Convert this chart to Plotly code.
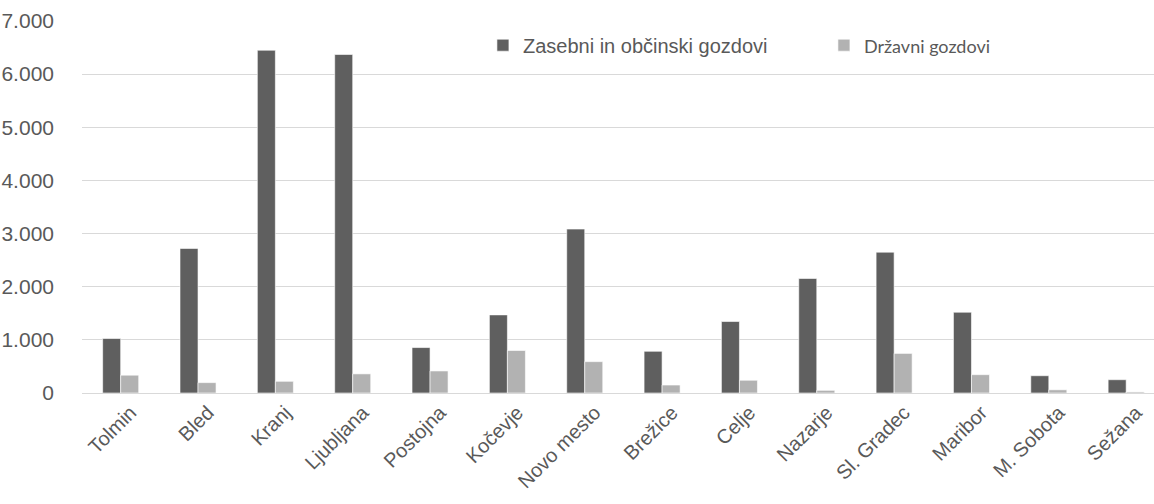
import plotly.graph_objects as go

categories = ["Tolmin", "Bled", "Kranj", "Ljubljana", "Postojna", "Kočevje", "Novo mesto",
              "Brežice", "Celje", "Nazarje", "Sl. Gradec", "Maribor", "M. Sobota", "Sežana"]
zasebni = [1025, 2720, 6450, 6370, 855, 1470, 3085, 785, 1345, 2155, 2650, 1520, 325, 250]
drzavni = [335, 195, 220, 360, 415, 800, 590, 150, 240, 50, 745, 345, 60, 20]
series_names = ["Zasebni in občinski gozdovi", "Državni gozdovi"]
y_ticks = [0, 1000, 2000, 3000, 4000, 5000, 6000, 7000]

TXT = "#595959"
FONT = "Liberation Sans, Arial, sans-serif"

fig = go.Figure()
fig.add_trace(go.Bar(
    x=categories, y=zasebni, name=series_names[0],
    marker=dict(color="#5f5f5f", line=dict(color="#ffffff", width=0.6)),
))
fig.add_trace(go.Bar(
    x=categories, y=drzavni,
    name='<span style="font-family:Lato;font-size:18px">' + series_names[1] + '</span>',
    marker=dict(color="#b2b2b2", line=dict(color="#ffffff", width=0.6)),
))

fig.update_layout(
    width=1154, height=504,
    template="none",
    paper_bgcolor="white", plot_bgcolor="white",
    margin=dict(l=82, r=0, t=21, b=111, autoexpand=False),
    barmode="group", bargap=0.534, bargroupgap=0,
    separators=",.",
    font=dict(family=FONT, size=20, color=TXT),
    showlegend=True,
    legend=dict(
        orientation="h",
        x=0.374, xanchor="left", y=0.935, yanchor="middle",
        entrywidth=296, entrywidthmode="pixels",
        font=dict(family=FONT, size=20, color=TXT),
        bgcolor="rgba(0,0,0,0)",
        traceorder="normal",
    ),
    xaxis=dict(
        type="category", range=[-0.5, 13.36], tickangle=-45,
        showgrid=False, showline=False, zeroline=False, ticks="",
        ticklabelstandoff=3, ticklabelshift=10,
        tickfont=dict(family=FONT, size=20, color=TXT),
    ),
    yaxis=dict(
        range=[0, 7000], tickvals=y_ticks, tickformat=",d",
        showgrid=True, gridcolor="#d9d9d9", gridwidth=1.3,
        zeroline=True, zerolinecolor="#d9d9d9", zerolinewidth=1.3,
        showline=False, ticks="", ticklabelstandoff=27,
        tickfont=dict(family=FONT, size=21, color=TXT),
    ),
)

fig.write_html("out.html",
               config={"displayModeBar": False},
               post_script="document.body.style.margin='0';document.body.style.overflow='hidden';")
